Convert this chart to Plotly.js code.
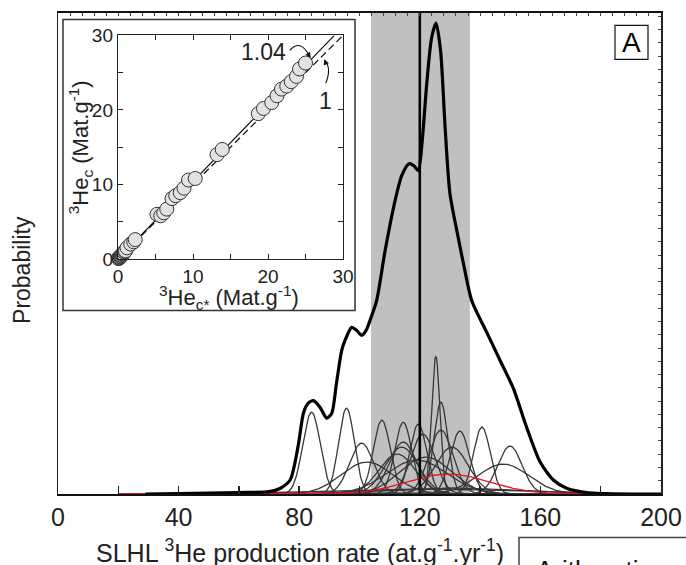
<!DOCTYPE html>
<html>
<head>
<meta charset="utf-8">
<script src="https://cdn.plot.ly/plotly-3.0.1.min.js"></script>
<style>html,body{margin:0;padding:0;background:#fff;}#chart{width:686px;height:565px;}</style>
</head>
<body>
<div id="chart"></div>
<script>
// ---- Main panel data ----
// Summed probability curve (production rate, probability in arbitrary units)
const sumRate = [29, 40, 50, 60, 70, 73.6, 77, 79.7, 81.4, 83, 84.7, 86.9, 89.1, 90.8, 92.4, 94.1, 95.2, 97.4, 99, 100.7, 102.2, 103.5, 105.7, 108.5, 111.8, 114, 116.4, 118, 119.5, 120.8, 122.3, 123.9, 125.4, 126.9, 128.4, 130, 132.6, 134.6, 137.2, 142.2, 146.6, 151, 155.4, 159.9, 164.3, 168.7, 175.3, 185, 200];
const sumProb = [0.00, 0.005, 0.01, 0.015, 0.023, 0.055, 0.14, 0.49, 0.81, 0.91, 0.935, 0.87, 0.76, 0.81, 1.12, 1.44, 1.54, 1.67, 1.64, 1.59, 1.64, 1.74, 1.94, 2.44, 2.94, 3.19, 3.31, 3.29, 3.24, 3.54, 4.11, 4.57, 4.72, 4.44, 3.67, 3.01, 2.59, 2.29, 1.94, 1.62, 1.34, 1.06, 0.67, 0.32, 0.14, 0.057, 0.013, 0.0, 0.0];

// Individual sample distributions: mean, 1-sigma, peak height
const sampleMean  = [84.1, 95.7, 100.7, 107.4, 114.5, 119.5, 125.3, 127.0, 127.0, 133.3, 140.6, 149.9, 147.7, 102.5, 114.5, 114.0, 130.6, 122.0, 119.0, 112.5, 121.0, 120.0, 130.0];
const sampleSigma = [2.9, 2.6, 4.0, 2.8, 2.8, 2.8, 1.4, 2.3, 4.0, 3.2, 2.8, 4.0, 8.5, 8.5, 4.5, 5.5, 5.5, 8.5, 10.0, 6.0, 4.0, 30.0, 22.0];
const sampleHeight = [0.82, 0.86, 0.51, 0.74, 0.72, 0.70, 1.38, 0.92, 0.64, 0.63, 0.67, 0.48, 0.30, 0.32, 0.52, 0.47, 0.47, 0.37, 0.34, 0.40, 0.60, 0.05, 0.06];
// Red distribution
const redMean = 129.5, redSigma = 13.5, redHeight = 0.20;

// Weighted mean and uncertainty band
const meanRate = 120;
const bandLow = 103.8, bandHigh = 136.6;

// Axis ticks
const xTickVals = [0, 40, 80, 120, 160, 200];
const xTickText = ['0', '40', '80', '120', '160', '200'];

// ---- Inset data ----
const insetX = [0.05, 0.1, 0.15, 0.2, 0.25, 0.3, 0.35, 0.4, 0.45, 0.5, 0.55, 0.6, 0.7, 0.8, 0.9, 1.0, 1.2, 1.7, 2.1, 2.3, 5.2, 5.7, 6.1, 6.5, 7.2, 7.7, 8.3, 8.8, 9.4, 10.3, 13.2, 13.9, 18.7, 19.4, 20.5, 21.2, 21.8, 22.5, 23.1, 23.8, 24.2, 25.0];
const insetY = [0.1, 0.05, 0.2, 0.15, 0.3, 0.25, 0.4, 0.35, 0.5, 0.45, 0.6, 0.7, 0.7, 0.9, 1.0, 1.1, 1.5, 2.0, 2.3, 2.6, 6.0, 5.8, 6.2, 6.7, 8.1, 8.5, 8.9, 9.5, 10.6, 10.8, 14.0, 14.7, 19.5, 20.2, 21.0, 21.9, 22.8, 23.2, 23.8, 24.5, 25.5, 26.3];
const slopeFit = 1.04, slopeOne = 1;
const insetTickVals = [0, 10, 20, 30];
const insetTickText = ['0', '10', '20', '30'];

// ---- helpers (layout positioning, pixels -> paper) ----
const L = 58, R = 661, T = 12.5, B = 494.5;
const px = v => (v - L) / (R - L);
const py = v => (B - v) / (B - T);

function gaussCurve(m, s, h) {
  const xs = [], ys = [];
  for (let x = 20; x <= 200.001; x += 0.25) {
    xs.push(x);
    ys.push(h * Math.exp(-0.5 * Math.pow((x - m) / s, 2)));
  }
  return {xs, ys};
}

const traces = [];
for (let i = 0; i < sampleMean.length; i++) {
  const g = gaussCurve(sampleMean[i], sampleSigma[i], sampleHeight[i]);
  traces.push({x: g.xs, y: g.ys, type: 'scatter', mode: 'lines',
    line: {color: 'rgb(55,55,55)', width: 1.3}, hoverinfo: 'skip', showlegend: false});
}
const gr = gaussCurve(redMean, redSigma, redHeight);
traces.push({x: gr.xs, y: gr.ys, type: 'scatter', mode: 'lines',
  line: {color: 'rgb(230,20,30)', width: 1.3}, showlegend: false});
traces.push({x: sumRate, y: sumProb, type: 'scatter', mode: 'lines',
  line: {color: '#000', width: 3.2, shape: 'spline', smoothing: 0.7}, showlegend: false});
// mean line
traces.push({x: [meanRate, meanRate], y: [0, 4.82], type: 'scatter', mode: 'lines',
  line: {color: '#000', width: 2.6}, showlegend: false});
// dummy for overlay tick axes
traces.push({x: [null], y: [null], xaxis: 'x2', yaxis: 'y2', type: 'scatter', showlegend: false});

// inset lines
traces.push({x: [0, 30 / slopeOne], y: [0, 30], xaxis: 'x3', yaxis: 'y3', type: 'scatter', mode: 'lines',
  line: {color: '#111', width: 1.2, dash: '7px,4px'}, showlegend: false});
traces.push({x: [0, 30 / slopeFit], y: [0, 30], xaxis: 'x3', yaxis: 'y3', type: 'scatter', mode: 'lines',
  line: {color: '#111', width: 1.2}, showlegend: false});
traces.push({x: insetX, y: insetY, xaxis: 'x3', yaxis: 'y3', type: 'scatter', mode: 'markers',
  marker: {size: 14, color: 'rgb(226,226,226)', line: {color: '#333', width: 1}}, cliponaxis: false, showlegend: false});

const font = 'Liberation Sans, Arial, Helvetica, sans-serif';
const txt = '#222';

const layout = {
  width: 686, height: 565,
  margin: {l: L, r: 686 - R, t: T, b: 565 - B, pad: 0},
  paper_bgcolor: '#fff', plot_bgcolor: 'rgba(0,0,0,0)',
  font: {family: font, color: txt},
  showlegend: false,
  xaxis: {range: [0, 200], tickvals: xTickVals, ticktext: xTickText, ticks: 'inside', ticklen: 8,
    tickwidth: 1.5, tickcolor: '#222', showline: true, linecolor: '#111', linewidth: 2, mirror: true,
    minor: {dtick: 20, tick0: 0, ticks: 'inside', ticklen: 8, tickwidth: 1.5, tickcolor: '#222', showgrid: false},
    showgrid: false, zeroline: false, tickfont: {size: 25, family: font, color: txt}},
  yaxis: {range: [0, 4.82], showticklabels: false, ticks: '', showline: true, linecolor: '#222',
    linewidth: 1.5, mirror: true, showgrid: false, zeroline: false},
  xaxis2: {overlaying: 'x', anchor: 'y2', side: 'top', range: [0, 200], dtick: 4, tick0: 0, ticks: 'inside', ticklen: 3,
    tickcolor: '#444', showticklabels: false, showgrid: false, zeroline: false, showline: false},
  yaxis2: {overlaying: 'y', anchor: 'x2', side: 'right', range: [0, 4.82], dtick: 0.133, tick0: 0, ticks: 'inside', ticklen: 3,
    tickcolor: '#444', showticklabels: false, showgrid: false, zeroline: false, showline: false},
  xaxis3: {domain: [px(118), px(343)], anchor: 'y3', range: [0, 30], tickvals: insetTickVals, ticktext: insetTickText,
    ticks: 'inside', ticklen: 5, tickcolor: '#222', showline: true, linecolor: '#222', linewidth: 1.2, mirror: 'allticks',
    minor: {dtick: 5, tick0: 0, ticks: 'inside', ticklen: 5, tickcolor: '#222', showgrid: false},
    showgrid: false, zeroline: false, tickfont: {size: 19, family: font, color: txt}},
  yaxis3: {domain: [py(259), py(35)], anchor: 'x3', range: [0, 30], tickvals: insetTickVals, ticktext: insetTickText,
    ticks: 'inside', ticklen: 5, tickcolor: '#222', showline: true, linecolor: '#222', linewidth: 1.2, mirror: 'allticks',
    minor: {dtick: 5, tick0: 0, ticks: 'inside', ticklen: 5, tickcolor: '#222', showgrid: false},
    showgrid: false, zeroline: false, tickfont: {size: 19, family: font, color: txt}},
  shapes: [
    {type: 'rect', xref: 'x', yref: 'paper', x0: bandLow, x1: bandHigh, y0: 0, y1: 1, fillcolor: 'rgb(192,192,192)',
      line: {width: 0}, layer: 'below'},
    {type: 'rect', xref: 'paper', yref: 'paper', x0: px(63), x1: px(355), y0: py(310.5), y1: py(19),
      fillcolor: '#fff', line: {color: '#333', width: 1.5}, layer: 'below'},
    {type: 'rect', xref: 'paper', yref: 'paper', x0: px(615), x1: px(648), y0: py(59), y1: py(25),
      fillcolor: '#fff', line: {color: '#111', width: 1.2}},
    {type: 'rect', xref: 'paper', yref: 'paper', x0: px(519), x1: px(700), y0: py(580), y1: py(538),
      fillcolor: '#fff', line: {color: '#444', width: 1.5}},
    // curved arrows in inset
    {type: 'path', xref: 'x3', yref: 'y3', path: 'M 22.9 28.0 Q 24.3 29.6 25.5 27.3', line: {color: '#111', width: 1.1}},
    {type: 'path', xref: 'x3', yref: 'y3', path: 'M 27.7 23.6 Q 28.5 25.6 27.6 26.6', line: {color: '#111', width: 1.1}}
  ],
  annotations: [
    {xref: 'paper', yref: 'paper', x: px(631.5), y: py(42), text: 'A', showarrow: false,
      font: {size: 28, family: font, color: '#000'}, xanchor: 'center', yanchor: 'middle'},
    {xref: 'paper', yref: 'paper', x: px(300), y: py(552), text: 'SLHL <sup>3</sup>He production rate (at.g<sup>-1</sup>.yr<sup>-1</sup>)',
      showarrow: false, font: {size: 25, family: font, color: txt}, xanchor: 'center', yanchor: 'middle'},
    {xref: 'paper', yref: 'paper', x: px(22), y: py(270), text: 'Probability', textangle: -90,
      showarrow: false, font: {size: 23, family: font, color: txt}, xanchor: 'center', yanchor: 'middle'},
    {xref: 'paper', yref: 'paper', x: px(534), y: py(554), text: 'Arithmetic mean', showarrow: false,
      font: {size: 26, family: font, color: '#111'}, xanchor: 'left', yanchor: 'top'},
    {xref: 'paper', yref: 'paper', x: px(229), y: py(298), text: '<sup>3</sup>He<sub>c*</sub> (Mat.g<sup>-1</sup>)',
      showarrow: false, font: {size: 22, family: font, color: txt}, xanchor: 'center', yanchor: 'middle'},
    {xref: 'paper', yref: 'paper', x: px(80), y: py(147), text: '<sup>3</sup>He<sub>c</sub> (Mat.g<sup>-1</sup>)', textangle: -90,
      showarrow: false, font: {size: 22, family: font, color: txt}, xanchor: 'center', yanchor: 'middle'},
    {xref: 'x3', yref: 'y3', x: 22.6, y: 27.8, text: '1.04', showarrow: false,
      font: {size: 23, family: font, color: txt}, xanchor: 'right', yanchor: 'middle'},
    {xref: 'x3', yref: 'y3', x: 27.6, y: 21.2, text: '1', showarrow: false,
      font: {size: 23, family: font, color: txt}, xanchor: 'center', yanchor: 'middle'},
    {xref: 'x3', yref: 'y3', axref: 'x3', ayref: 'y3', x: 25.7, y: 27.0, ax: 25.3, ay: 27.6, text: '', showarrow: true,
      arrowhead: 2, arrowsize: 1, arrowwidth: 1.1, arrowcolor: '#111'},
    {xref: 'x3', yref: 'y3', axref: 'x3', ayref: 'y3', x: 27.5, y: 26.8, ax: 27.7, ay: 26.3, text: '', showarrow: true,
      arrowhead: 2, arrowsize: 1, arrowwidth: 1.1, arrowcolor: '#111'}
  ]
};

Plotly.newPlot('chart', traces, layout, {displayModeBar: false, staticPlot: true});
</script>
</body>
</html>
